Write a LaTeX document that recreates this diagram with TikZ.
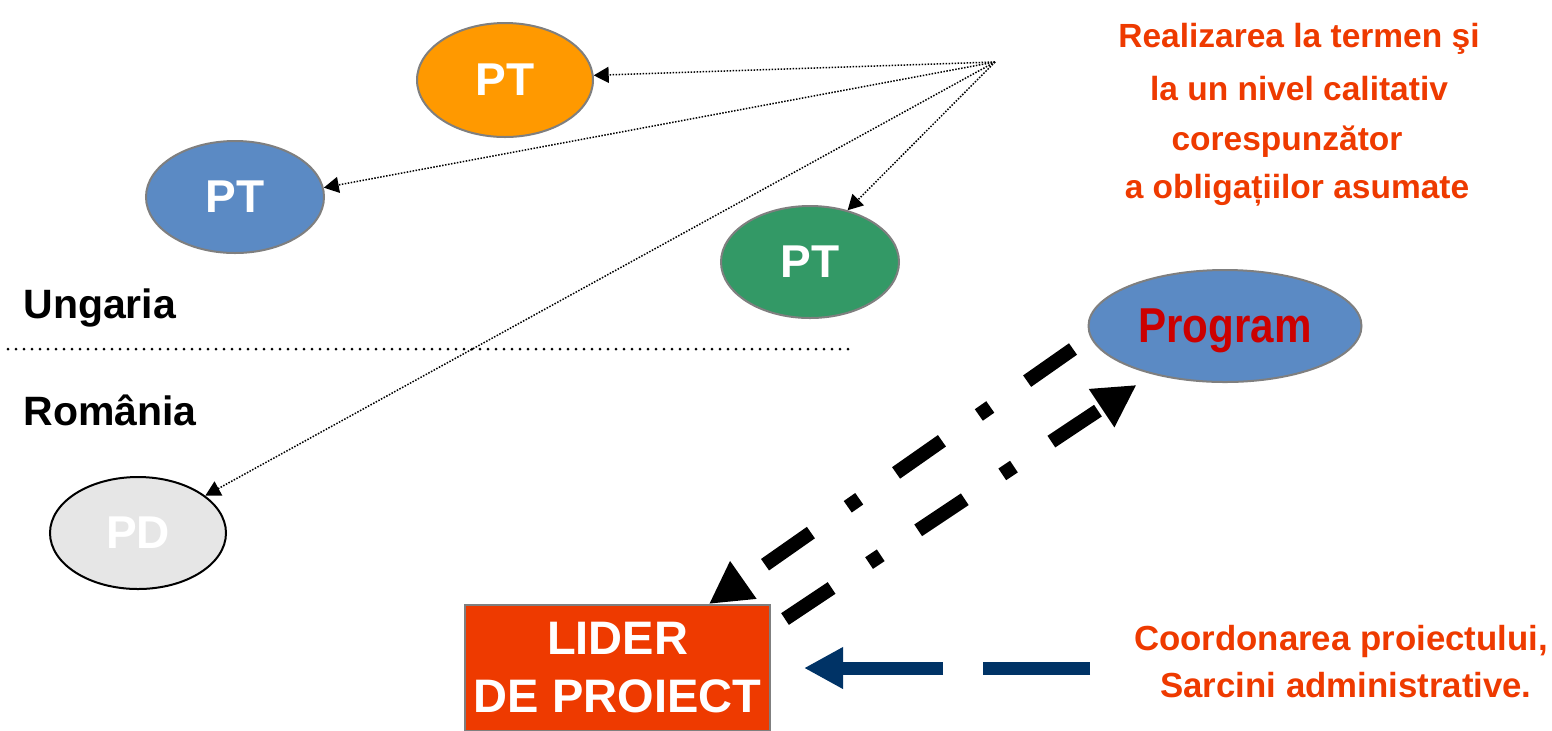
\documentclass[tikz,border=0pt]{standalone}
\usepackage{fontspec}
\setmainfont{Liberation Sans}
\newfontfamily\narrowfont{Liberation Sans}[FakeStretch=0.86]
\usetikzlibrary{shapes.geometric,arrows.meta}
\definecolor{orangePT}{HTML}{FF9900}
\definecolor{bluePT}{HTML}{5B8AC4}
\definecolor{greenPT}{HTML}{339966}
\definecolor{pdgray}{HTML}{E6E6E6}
\definecolor{liderred}{HTML}{EE3A00}
\definecolor{textred}{HTML}{EE3A00}
\definecolor{progred}{HTML}{CC0000}
\definecolor{navyline}{HTML}{003366}
\definecolor{bordergray}{HTML}{7F7F7F}
\tikzset{
  ell/.style={ellipse, draw=bordergray, line width=1pt, inner sep=0pt, text=white,
    font=\bfseries\fontsize{23}{27}\selectfont},
  liderbox/.style={rectangle, draw=bordergray, line width=1pt, fill=liderred, text=white,
    minimum width=152.5pt, minimum height=63pt, inner sep=0pt, align=center,
    font=\bfseries\fontsize{23.5}{29}\selectfont},
  lbl/.style={inner sep=0pt, anchor=base west, font=\bfseries\fontsize{20.5}{24}\selectfont},
  redtxt/.style={inner sep=0pt, anchor=base, text=textred, font=\bfseries\fontsize{16.75}{20}\selectfont},
  redtxtb/.style={inner sep=0pt, anchor=base, text=textred, font=\bfseries\fontsize{17.4}{21}\selectfont},
  dotarrow/.style={line width=0.75pt, dash pattern=on 0.75pt off 0.75pt,
    -{Triangle[length=7.5pt,width=8pt]}},
  sepline/.style={line width=1.5pt, line cap=round, dash pattern=on 0pt off 4pt},
  dashdotarrow/.style={line width=7pt, dash pattern=on 28pt off 22.5pt on 7pt off 22.5pt,
    -{Triangle[length=21pt,width=21.5pt]}},
  bluearrow/.style={draw=navyline, line width=6.5pt, dash pattern=on 53.5pt off 20pt,
    -{Triangle[length=19.5pt,width=19.5pt]}}
}
\begin{document}
\begin{tikzpicture}[x=0.5pt,y=-0.5pt]
\useasboundingbox (0,0) rectangle (1552,730);

% ellipses
\node[ell, fill=orangePT, minimum width=88pt, minimum height=57pt] (pt1) at (505,80) {PT};
\node[ell, fill=bluePT, minimum width=89pt, minimum height=56pt] (pt2) at (235,197) {PT};
\node[ell, fill=greenPT, minimum width=89pt, minimum height=56pt] (pt3) at (810,262) {PT};
\node[ell, fill=bluePT, minimum width=136.5pt, minimum height=56pt, text=progred, text depth=0pt,
  font=\narrowfont\bfseries\fontsize{24.5}{29}\selectfont] (prog) at (1225,326) {Program};
\node[ell, draw=black, fill=pdgray, minimum width=88pt, minimum height=56pt] (pd) at (138,533) {PD};

% leader box
\node[liderbox] (lider) at (617.5,668) {LIDER\\DE PROIECT};

% country labels and separator
\node[lbl] (ung) at (23,318) {Ungaria};
\node[lbl] (rom) at (23,425) {România};
\coordinate (sepL) at (8,349);
\coordinate (sepR) at (850,349);
\draw[sepline] (sepL) -- (sepR);

% dotted arrows from a common point
\coordinate (src) at (995,62);
\draw[dotarrow] (src) -- (pt1.3);
\draw[dotarrow] (src) -- (pt2.6);
\draw[dotarrow] (src) -- (pt3.54);
\draw[dotarrow] (src) -- (pd.29);

% red text top right
\node[redtxt] (r1) at (1299,47) {Realizarea la termen şi};
\node[redtxt] (r2) at (1299,100) {la un nivel calitativ};
\node[redtxt] (r3) at (1287,150) {corespunzător};
\node[redtxt] (r4) at (1297,198) {a obligațiilor asumate};

% dash-dot arrows between program and leader
\coordinate (d1) at (1073,349);
\coordinate (d2) at (785,619);
\draw[dashdotarrow] (d1) -- (lider.35);
\draw[dashdotarrow, shorten >=9.5pt] (d2) -- (prog);

% bottom text and blue dashed arrow
\node[redtxtb] (c1) at (1341,650) {Coordonarea proiectului,};
\node[redtxtb] (c2) at (1346,697) {Sarcini administrative.};
\coordinate (b1) at (1090,668);
\draw[bluearrow, shorten >=16.5pt] (b1) -- (lider.east);
\end{tikzpicture}
\end{document}
